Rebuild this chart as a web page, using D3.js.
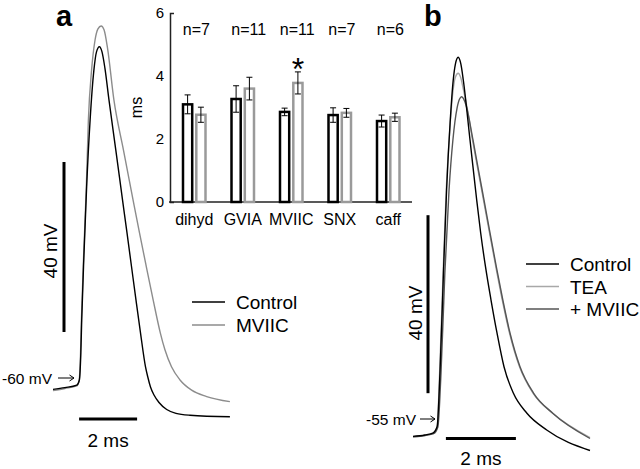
<!DOCTYPE html>
<html><head><meta charset="utf-8">
<script src="https://cdn.jsdelivr.net/npm/d3@7"></script>
<style>
body{margin:0;background:#fff}
svg{display:block;background:#fff}
text{font-family:"Liberation Sans",Arial,Helvetica,sans-serif;fill:#000}
</style>
</head><body>
<svg id="c" width="640" height="469"></svg>
<script>
// ---------- inset bar chart data (ms) ----------
const categories = ["dihyd","GVIA","MVIIC","SNX","caff"];
const nLabels = ["n=7","n=11","n=11","n=7","n=6"];
const controlMean = [3.10,3.27,2.86,2.76,2.57];
const controlErr  = [0.30,0.42,0.12,0.23,0.19];
const drugMean    = [2.77,3.60,3.78,2.83,2.69];
const drugErr     = [0.24,0.36,0.35,0.14,0.13];
const significant = ["MVIIC"];
const yTicks = [0,2,4,6];

// ---------- panel a traces: [time ms, membrane potential mV] ----------
const aControl = [[0,-62.2],[0.41,-61.8],[0.82,-61.2],[0.91,-60.0],[0.96,-53.6],[0.99,-45.9],[1.07,-30.1],[1.16,-14.5],[1.28,1.2],[1.41,12.9],[1.50,17.2],[1.60,18.4],[1.69,17.2],[1.79,13.4],[1.93,5.9],[2.166,-5.9],[2.397,-17.6],[2.552,-25.4],[2.707,-33.3],[2.862,-41.2],[3.017,-48.9],[3.19,-56.9],[3.269,-59.3],[3.362,-61.65],[3.483,-63.53],[3.655,-65.29],[3.921,-66.94],[4.241,-67.84],[4.724,-68.28],[6.10,-68.64]];
const aMVIIC = [[0,-62.5],[0.41,-62.0],[0.82,-61.4],[0.90,-60.2],[0.95,-53.6],[0.98,-45.9],[1.06,-30.1],[1.15,-14.5],[1.22,1.2],[1.33,12.9],[1.45,20.0],[1.55,22.6],[1.66,23.3],[1.76,22.4],[1.88,18.1],[2.10,5.9],[2.43,-5.9],[2.76,-17.6],[2.983,-25.4],[3.217,-33.3],[3.455,-41.2],[3.70,-48.9],[3.86,-52.9],[4.086,-56.9],[4.38,-60.0],[4.78,-62.4],[5.30,-63.9],[6.10,-65.1]];
const aLegend = ["Control","MVIIC"];

// ---------- panel b traces ----------
const bControl = [[0,-58.9],[0.34,-58.6],[0.58,-58.1],[0.69,-56.7],[0.77,-44.7],[0.87,-22.2],[0.96,-3.5],[1.06,11.5],[1.15,21.2],[1.21,24.7],[1.29,26.3],[1.37,24.7],[1.437,21.18],[1.629,7.7],[1.82,-5.79],[1.934,-13.2],[2.071,-20.78],[2.229,-28.26],[2.40,-35.67],[2.60,-43.25],[2.866,-49.16],[3.249,-53.65],[3.82,-57.47],[5.057,-62.08]];
const bTEA = [[0,-59.0],[0.34,-58.7],[0.57,-58.3],[0.69,-56.8],[0.76,-44.7],[0.86,-22.2],[0.95,-3.5],[1.05,9.9],[1.14,18.5],[1.21,21.8],[1.29,22.7],[1.36,21.8],[1.443,18.93],[1.557,14.44],[1.70,7.7],[1.866,0.51],[2.014,-5.79],[2.186,-13.2],[2.366,-20.78],[2.551,-28.26],[2.757,-35.67],[3.043,-43.25],[3.429,-49.16],[3.986,-53.65],[5.057,-59.16]];
const bMVIIC = [[0,-59.0],[0.34,-58.7],[0.59,-58.3],[0.71,-56.8],[0.80,-44.7],[0.91,-22.2],[1.03,-3.5],[1.14,7.7],[1.26,14.9],[1.33,16.9],[1.39,17.4],[1.45,16.9],[1.514,15.56],[1.714,7.7],[1.88,0.51],[2.029,-5.79],[2.20,-13.2],[2.38,-20.78],[2.566,-28.26],[2.771,-35.67],[3.057,-43.25],[3.443,-49.16],[4.00,-53.76],[5.057,-59.38]];
const bLegend = ["Control","TEA","+ MVIIC"];

const svg = d3.select("#c");
const FONT = '"Liberation Sans",Arial,sans-serif';

// ================= PANEL A =================
const xA = d3.scaleLinear().domain([0,2]).range([53,111]);
const yA = d3.scaleLinear().domain([-60,-20]).range([380,210]);
const lineA = d3.line().x(d=>xA(d[0])).y(d=>yA(d[1])).curve(d3.curveMonotoneX);
const gA = svg.append("g");
gA.append("path").datum(aMVIIC).attr("d",lineA).attr("fill","none").attr("stroke","#8c8c8c").attr("stroke-width",1.4);
gA.append("path").datum(aControl).attr("d",lineA).attr("fill","none").attr("stroke","#000").attr("stroke-width",1.4);

// scale bars a
gA.append("line").attr("x1",64).attr("x2",64).attr("y1",yA(-48.7)).attr("y2",yA(-8.7)).attr("stroke","#000").attr("stroke-width",3);
gA.append("line").attr("x1",xA(0.9)).attr("x2",xA(2.9)).attr("y1",419).attr("y2",419).attr("stroke","#000").attr("stroke-width",3);
gA.append("text").attr("transform",`translate(57,${(yA(-48.7)+yA(-8.7))/2+4}) rotate(-90)`).attr("text-anchor","middle").style("font-size","19px").text("40 mV");
gA.append("text").attr("x",(xA(0.9)+xA(2.9))/2).attr("y",447).attr("text-anchor","middle").style("font-size","19px").text("2 ms");
// -60 mV marker
const aArrowY = yA(-60)-2;
gA.append("text").attr("x",52).attr("y",aArrowY+5.5).attr("text-anchor","end").style("font-size","15.5px").text("-60 mV");
gA.append("line").attr("x1",58).attr("x2",74).attr("y1",aArrowY).attr("y2",aArrowY).attr("stroke","#000").attr("stroke-width",1);
gA.append("path").attr("d",`M69.5,${aArrowY-3}L74,${aArrowY}L69.5,${aArrowY+3}`).attr("fill","none").attr("stroke","#000").attr("stroke-width",1);
// legend a
const legA = gA.selectAll("g.leg").data(aLegend).join("g").attr("transform",(d,i)=>`translate(192,${302+i*23})`);
legA.append("line").attr("x1",0).attr("x2",33).attr("stroke",(d,i)=>i?"#8c8c8c":"#000").attr("stroke-width",1.4);
legA.append("text").attr("x",44).attr("y",7).style("font-size","19px").text(d=>d);
gA.append("text").attr("x",56).attr("y",26).style("font-size","29px").style("font-weight","bold").text("a");

// ================= INSET BAR CHART =================
const yBar = d3.scaleLinear().domain([0,6]).range([202,13]);
const xBar = d3.scaleBand().domain(categories).range([170,412.5]);
const xSub = d3.scaleBand().domain(["control","drug"]).range([-12.5,12.5]).paddingInner(0.12);
const gB = svg.append("g");
const yAxis = d3.axisLeft(yBar).tickValues(yTicks).tickFormat(d3.format("d")).tickSizeInner(0).tickSizeOuter(-4).tickPadding(6);
const ya = gB.append("g").attr("transform","translate(170,0)").call(yAxis);
ya.select(".domain").attr("stroke","#222").attr("stroke-width",1.5);
ya.selectAll("text").style("font-size","15px").style("font-family",FONT).attr("fill","#000");
gB.append("line").attr("x1",169).attr("x2",412).attr("y1",202).attr("y2",202).attr("stroke","#222").attr("stroke-width",1.5);
gB.append("text").attr("transform","translate(142,107.5) rotate(-90)").attr("text-anchor","middle").style("font-size","16px").text("ms");

const series = [
  {key:"control", mean:controlMean, err:controlErr, color:"#000"},
  {key:"drug", mean:drugMean, err:drugErr, color:"#9a9a9a"}
];
series.forEach(s=>{
  categories.forEach((c,i)=>{
    const cx = xBar(c)+xBar.bandwidth()/2;
    const x0 = cx + xSub(s.key) + 1.25;
    const w = xSub.bandwidth() - 2.5;
    gB.append("rect").attr("x",x0).attr("y",yBar(s.mean[i])).attr("width",w).attr("height",yBar(0)-yBar(s.mean[i]))
      .attr("fill","#fff").attr("stroke",s.color).attr("stroke-width",2.5);
    const mx = cx + xSub(s.key) + xSub.bandwidth()/2;
    const hi = yBar(s.mean[i]+s.err[i]), lo = yBar(s.mean[i]-s.err[i]);
    gB.append("line").attr("x1",mx).attr("x2",mx).attr("y1",hi).attr("y2",lo).attr("stroke","#000").attr("stroke-width",1);
    gB.append("line").attr("x1",mx-3).attr("x2",mx+3).attr("y1",hi).attr("y2",hi).attr("stroke","#000").attr("stroke-width",1);
    gB.append("line").attr("x1",mx-3).attr("x2",mx+3).attr("y1",lo).attr("y2",lo).attr("stroke","#000").attr("stroke-width",1);
  });
});
gB.selectAll("text.cat").data(categories).join("text").attr("class","cat")
  .attr("x",d=>xBar(d)+xBar.bandwidth()/2).attr("y",225).attr("text-anchor","middle").style("font-size","16px").text(d=>d);
gB.selectAll("text.n").data(categories).join("text").attr("class","n")
  .attr("x",d=>xBar(d)+xBar.bandwidth()/2-11.5).attr("y",34.5).style("font-size","16px").text((d,i)=>nLabels[i]);
significant.forEach(c=>{
  const i = categories.indexOf(c);
  const mx = xBar(c)+xBar.bandwidth()/2 + xSub("drug") + xSub.bandwidth()/2;
  gB.append("text").attr("x",mx).attr("y",yBar(drugMean[i]+drugErr[i])+8).attr("text-anchor","middle").style("font-size","32px").text("*");
});

// ================= PANEL B =================
const xB = d3.scaleLinear().domain([0,2]).range([413,483]);
const yB = d3.scaleLinear().domain([-55,-15]).range([419,241]);
const lineB = d3.line().x(d=>xB(d[0])).y(d=>yB(d[1])).curve(d3.curveMonotoneX);
const gC = svg.append("g");
const bColors = ["#000","#a8a8a8","#555"];
gC.append("path").datum(bTEA).attr("d",lineB).attr("fill","none").attr("stroke",bColors[1]).attr("stroke-width",1.4);
gC.append("path").datum(bMVIIC).attr("d",lineB).attr("fill","none").attr("stroke",bColors[2]).attr("stroke-width",1.4);
gC.append("path").datum(bControl).attr("d",lineB).attr("fill","none").attr("stroke",bColors[0]).attr("stroke-width",1.4);
// scale bars b
gC.append("line").attr("x1",428).attr("x2",428).attr("y1",yB(-49.2)).attr("y2",yB(-9.2)).attr("stroke","#000").attr("stroke-width",3);
gC.append("line").attr("x1",xB(0.94)).attr("x2",xB(2.94)).attr("y1",438.5).attr("y2",438.5).attr("stroke","#000").attr("stroke-width",3);
gC.append("text").attr("transform",`translate(422,313) rotate(-90)`).attr("text-anchor","middle").style("font-size","19px").text("40 mV");
gC.append("text").attr("x",(xB(0.94)+xB(2.94))/2).attr("y",465).attr("text-anchor","middle").style("font-size","19px").text("2 ms");
const bArrowY = yB(-55);
gC.append("text").attr("x",416).attr("y",bArrowY+5.5).attr("text-anchor","end").style("font-size","15.5px").text("-55 mV");
gC.append("line").attr("x1",420).attr("x2",435).attr("y1",bArrowY).attr("y2",bArrowY).attr("stroke","#000").attr("stroke-width",1);
gC.append("path").attr("d",`M430.5,${bArrowY-3}L435,${bArrowY}L430.5,${bArrowY+3}`).attr("fill","none").attr("stroke","#000").attr("stroke-width",1);
const legB = gC.selectAll("g.leg").data(bLegend).join("g").attr("transform",(d,i)=>`translate(526,${264+i*22.5})`);
legB.append("line").attr("x1",0).attr("x2",33).attr("stroke",(d,i)=>bColors[i]).attr("stroke-width",1.4);
legB.append("text").attr("x",44).attr("y",7).style("font-size","19px").text(d=>d);
gC.append("text").attr("x",424).attr("y",26).style("font-size","29px").style("font-weight","bold").text("b");
</script>
</body></html>
